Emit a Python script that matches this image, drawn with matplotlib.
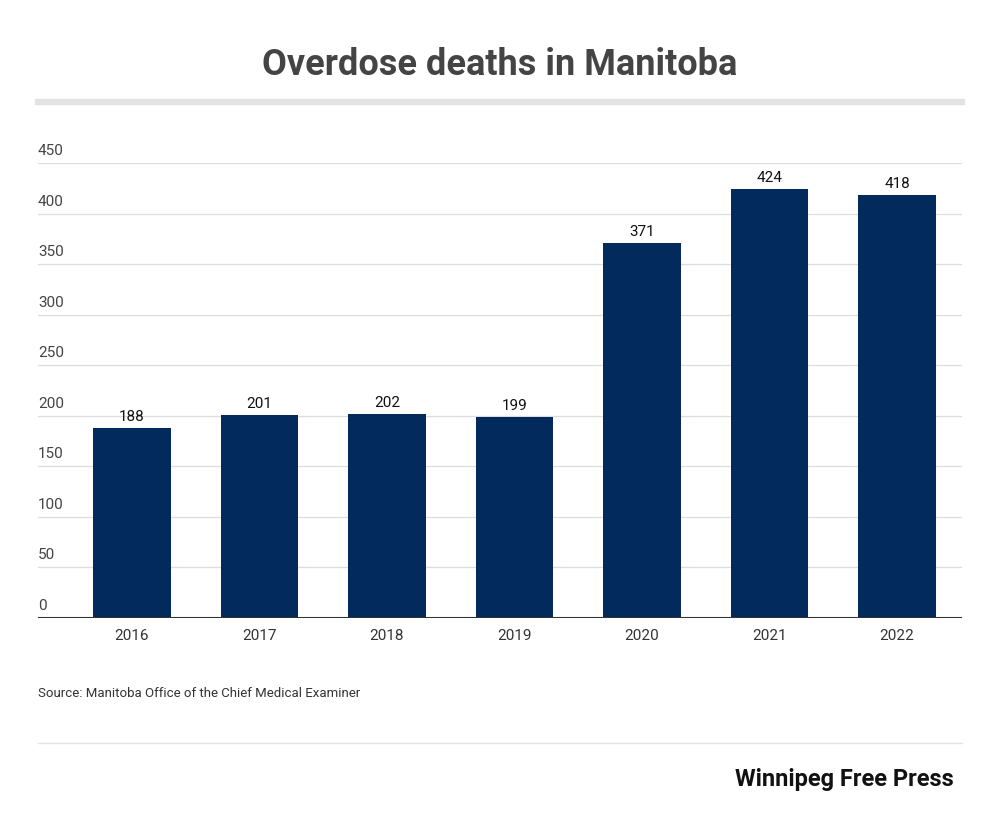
import matplotlib
matplotlib.use("Agg")
import matplotlib.pyplot as plt

years = ["2016", "2017", "2018", "2019", "2020", "2021", "2022"]
deaths = [188, 201, 202, 199, 371, 424, 418]
yticks = [0, 50, 100, 150, 200, 250, 300, 350, 400, 450]

plt.rcParams['font.family'] = ['Roboto', 'DejaVu Sans']
W, H = 1000, 821
fig = plt.figure(figsize=(W/100, H/100), dpi=100)
fig.patch.set_facecolor('white')

ax = fig.add_axes([38/W, 1-618/H, 924/W, (618-163)/H])
x = list(range(len(years)))
ax.bar(x, deaths, width=0.61, color='#022a5c', zorder=3)
ax.set_xlim(-0.737, 6.51)
ax.set_ylim(0, 450)
for i, v in zip(x, deaths):
    ax.text(i, v + 4, str(v), ha='center', va='bottom', fontsize=11, color='#111111', zorder=4)
ax.set_yticks(yticks)
ax.set_yticklabels([])
for t in yticks:
    ax.axhline(t, color='#dddddd', lw=0.9, zorder=1)
    ax.text(-0.737, t + 5, str(t), ha='left', va='bottom', fontsize=11, color='#444444')
ax.axhline(0, color='#333333', lw=1.5, zorder=5)
ax.set_xticks(x)
ax.set_xticklabels(years, fontsize=11, color='#333333')
ax.tick_params(axis='both', length=0, pad=8)
for s in ax.spines.values():
    s.set_visible(False)

fig.text(0.5, 1-65/H, "Overdose deaths in Manitoba", ha='center', va='center',
         fontsize=26, fontweight='bold', color='#444444')
fig.add_artist(plt.Line2D([38/W, 962/W], [1-102/H]*2, color='#e3e3e3', lw=4.5))
fig.text(38/W, 1-693/H, "Source: Manitoba Office of the Chief Medical Examiner",
         ha='left', va='center', fontsize=9.5, color='#333333')
fig.add_artist(plt.Line2D([38/W, 962/W], [1-743/H]*2, color='#e3e3e3', lw=1))
fig.text(954/W, 1-779/H, "Winnipeg Free Press", ha='right', va='center',
         fontsize=17, fontweight='bold', color='#111111', fontstretch='condensed')

fig.savefig("out.png", dpi=100)
